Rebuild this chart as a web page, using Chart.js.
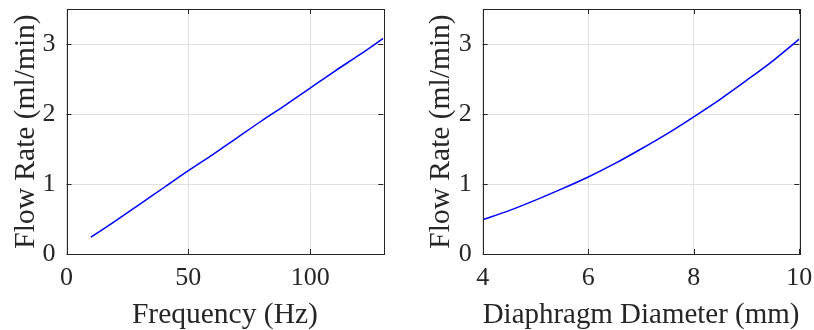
<!DOCTYPE html>
<html>
<head>
<meta charset="utf-8">
<script src="https://cdn.jsdelivr.net/npm/chart.js@4.4.0/dist/chart.umd.min.js"></script>
<style>
  html, body { margin: 0; padding: 0; background: #fff; }
  #wrap { position: relative; width: 814px; height: 330px; }
  canvas { position: absolute; top: 0; }
</style>
</head>
<body>
<div id="wrap">
  <canvas id="c1" width="407" height="330" style="left:0px"></canvas>
  <canvas id="c2" width="407" height="330" style="left:407px"></canvas>
</div>
<script>
// ---- Data ----
const freqHz = [10, 20, 30, 40, 50, 60, 70, 80, 90, 100, 110, 120, 130];
const flowVsFreq = [0.24, 0.47, 0.71, 0.95, 1.19, 1.42, 1.66, 1.90, 2.13, 2.37, 2.61, 2.84, 3.08];

const diameterMm = [4, 4.5, 5, 5.5, 6, 6.5, 7, 7.5, 8, 8.5, 9, 9.5, 10];
const flowVsDiameter = [0.49, 0.62, 0.77, 0.93, 1.10, 1.29, 1.50, 1.72, 1.96, 2.21, 2.48, 2.76, 3.07];

const freqTicks = [0, 50, 100];
const diameterTicks = [4, 6, 8, 10];
const flowTicks = [0, 1, 2, 3];

const xTitle1 = 'Frequency (Hz)';
const xTitle2 = 'Diaphragm Diameter (mm)';
const yTitle = 'Flow Rate (ml/min)';

// ---- Styling ----
const FONT = "'Liberation Serif', 'Times New Roman', serif";
const TXT = '#262626';
const GRID = '#e0e0e0';

const boxTicks = {
  id: 'boxTicks',
  afterDraw(chart) {
    const { ctx, chartArea: a, scales: { x, y } } = chart;
    const L = 5;
    ctx.save();
    ctx.strokeStyle = TXT;
    ctx.lineWidth = 1;
    ctx.beginPath();
    x.ticks.forEach(t => {
      const px = Math.round(x.getPixelForValue(t.value)) + 0.5;
      ctx.moveTo(px, a.bottom); ctx.lineTo(px, a.bottom - L);
      ctx.moveTo(px, a.top); ctx.lineTo(px, a.top + L);
    });
    y.ticks.forEach(t => {
      const py = Math.round(y.getPixelForValue(t.value)) + 0.5;
      ctx.moveTo(a.left, py); ctx.lineTo(a.left + L, py);
      ctx.moveTo(a.right, py); ctx.lineTo(a.right - L, py);
    });
    ctx.stroke();
    ctx.strokeRect(Math.round(a.left) + 0.5, Math.round(a.top) + 0.5,
                   Math.round(a.right - a.left), Math.round(a.bottom - a.top));
    ctx.restore();
  }
};

function zeroPad(s) { s.paddingTop = 0; s.paddingBottom = 0; s.paddingLeft = 0; s.paddingRight = 0; }

function makeChart(id, xs, ys, xMin, xMax, xTicks, xTitle, yAxisW, padRight, yTitlePad) {
  return new Chart(document.getElementById(id), {
    type: 'line',
    data: {
      datasets: [{
        data: xs.map((v, i) => ({ x: v, y: ys[i] })),
        borderColor: '#0000ff',
        borderWidth: 1.5,
        pointRadius: 0,
        cubicInterpolationMode: 'monotone',
        fill: false
      }]
    },
    options: {
      responsive: false,
      animation: false,
      events: [],
      layout: { padding: { top: 9, right: padRight, left: 0, bottom: 0 } },
      plugins: { legend: { display: false }, tooltip: { enabled: false } },
      scales: {
        x: {
          type: 'linear',
          min: xMin, max: xMax,
          afterBuildTicks: s => { s.ticks = xTicks.map(v => ({ value: v })); },
          afterFit: s => { s.height = 76; zeroPad(s); },
          grid: { color: GRID, drawTicks: false, lineWidth: 1 },
          border: { display: false },
          ticks: { color: TXT, padding: 9, font: { family: FONT, size: 26 }, maxRotation: 0 },
          title: { display: true, text: xTitle, color: TXT, font: { family: FONT, size: 29.5 }, padding: { top: 0, bottom: -3 } }
        },
        y: {
          type: 'linear',
          min: 0, max: 3.5,
          afterBuildTicks: s => { s.ticks = flowTicks.map(v => ({ value: v })); },
          afterFit: s => { s.width = yAxisW; zeroPad(s); },
          grid: { color: GRID, drawTicks: false, lineWidth: 1 },
          border: { display: false },
          ticks: { color: TXT, padding: 11, font: { family: FONT, size: 26 } },
          title: { display: true, text: yTitle, color: TXT, font: { family: FONT, size: 29.5 }, padding: { top: yTitlePad, bottom: 0 } }
        }
      }
    },
    plugins: [boxTicks]
  });
}

makeChart('c1', freqHz, flowVsFreq, 0, 130, freqTicks, xTitle1, 66.5, 23.7, 9);
makeChart('c2', diameterMm, flowVsDiameter, 4, 10, diameterTicks, xTitle2, 75.7, 14.7, 17);
</script>
</body>
</html>
